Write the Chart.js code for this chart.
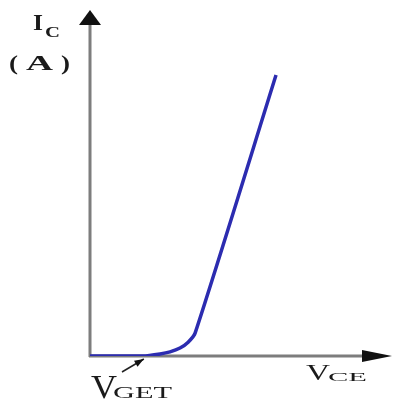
<!DOCTYPE html>
<html>
<head>
<meta charset="utf-8">
<style>
  html, body { margin: 0; padding: 0; background: #fff; }
  #wrap { width: 393px; height: 401px; }
</style>
<script src="https://cdn.jsdelivr.net/npm/chart.js@4"></script>
</head>
<body>
<div id="wrap"><canvas id="c" width="393" height="401"></canvas></div>
<script>
// IGBT output characteristic: collector current vs collector-emitter voltage
const vce = [0, 1.75, 2.32, 2.65, 2.98, 3.25, 3.48, 6.16];
const ic  = [0, 0,    0.06, 0.12, 0.23, 0.40, 0.66, 8.12];
const vget = 1.75;           // threshold point marked on the V axis
const axisMax = 10;

const points = vce.map((v, i) => ({ x: v, y: ic[i] }));

const serif = '"Liberation Serif", "DejaVu Serif", serif';

// text drawn with a wide, stretched face: left edge, baseline, size, target width
function wideText(ctx, text, left, base, size, width, weight) {
  ctx.save();
  ctx.font = (weight || 'normal') + ' ' + size + 'px ' + serif;
  const w = ctx.measureText(text).width;
  ctx.translate(left, base);
  ctx.scale(width / w, 1);
  ctx.fillText(text, 0, 0);
  ctx.restore();
}

// Axes with arrowheads and their labels
const axesPlugin = {
  id: 'axesArrows',
  beforeDatasetsDraw(chart) {
    const { ctx, scales: { x, y } } = chart;
    const x0 = x.getPixelForValue(0), y0 = y.getPixelForValue(0);
    const xEnd = x.getPixelForValue(axisMax), yEnd = y.getPixelForValue(axisMax);
    ctx.save();
    ctx.strokeStyle = '#7d7d7d';
    ctx.lineWidth = 3;
    ctx.beginPath();
    ctx.moveTo(x0, y0 + 1); ctx.lineTo(x0, yEnd + 10);
    ctx.moveTo(x0 - 1, y0); ctx.lineTo(xEnd - 20, y0);
    ctx.stroke();
    ctx.fillStyle = '#111';
    // vertical arrowhead
    ctx.beginPath();
    ctx.moveTo(x0, yEnd);
    ctx.lineTo(x0 - 11, yEnd + 15);
    ctx.lineTo(x0 + 11, yEnd + 15);
    ctx.closePath(); ctx.fill();
    // horizontal arrowhead
    ctx.beginPath();
    ctx.moveTo(xEnd, y0);
    ctx.lineTo(xEnd - 30, y0 - 6);
    ctx.lineTo(xEnd - 30, y0 + 6);
    ctx.closePath(); ctx.fill();
    ctx.restore();
  },
  afterDatasetsDraw(chart) {
    const { ctx, scales: { x, y } } = chart;
    const y0 = y.getPixelForValue(0);
    const gx = x.getPixelForValue(vget);
    ctx.save();
    ctx.fillStyle = '#1a1a1a';
    ctx.textBaseline = 'alphabetic';
    ctx.textAlign = 'left';
    // I_C (A)
    wideText(ctx, 'I', 33, 30, 24, 10, 'bold');
    wideText(ctx, 'C', 45, 37, 15, 15, 'bold');
    wideText(ctx, '(', 9, 70, 22, 9, 'bold');
    wideText(ctx, 'A', 26, 70, 22, 27, 'bold');
    wideText(ctx, ')', 61, 70, 22, 9, 'bold');
    // V_GET
    wideText(ctx, 'V', 91, 398, 34, 26);
    wideText(ctx, 'GET', 113, 398, 17, 59);
    // V_CE
    wideText(ctx, 'V', 306, 380, 23, 24);
    wideText(ctx, 'CE', 328, 381, 12, 39);
    // pointer from the V_GET label to the knee start
    const tx = gx + 1, ty = y0 + 3;
    const sx = 122, sy = 372;
    const ang = Math.atan2(ty - sy, tx - sx);
    ctx.strokeStyle = '#222';
    ctx.lineWidth = 1.5;
    ctx.beginPath(); ctx.moveTo(sx, sy); ctx.lineTo(tx, ty); ctx.stroke();
    ctx.beginPath();
    ctx.moveTo(tx, ty);
    ctx.lineTo(tx - 10 * Math.cos(ang - 0.35), ty - 10 * Math.sin(ang - 0.35));
    ctx.lineTo(tx - 10 * Math.cos(ang + 0.35), ty - 10 * Math.sin(ang + 0.35));
    ctx.closePath(); ctx.fillStyle = '#111'; ctx.fill();
    ctx.restore();
  }
};

new Chart(document.getElementById('c'), {
  type: 'scatter',
  data: {
    datasets: [{
      data: points,
      showLine: true,
      borderColor: '#2c2cb0',
      borderWidth: 3.5,
      pointRadius: 0,
      tension: 0.25,
      borderCapStyle: 'butt',
      borderJoinStyle: 'round'
    }]
  },
  options: {
    responsive: false,
    animation: false,
    layout: { padding: { left: 90, right: 1, top: 10, bottom: 45 } },
    plugins: { legend: { display: false }, tooltip: { enabled: false } },
    scales: {
      x: { type: 'linear', min: 0, max: axisMax, display: false },
      y: { type: 'linear', min: 0, max: axisMax, display: false }
    }
  },
  plugins: [axesPlugin]
});
</script>
</body>
</html>
